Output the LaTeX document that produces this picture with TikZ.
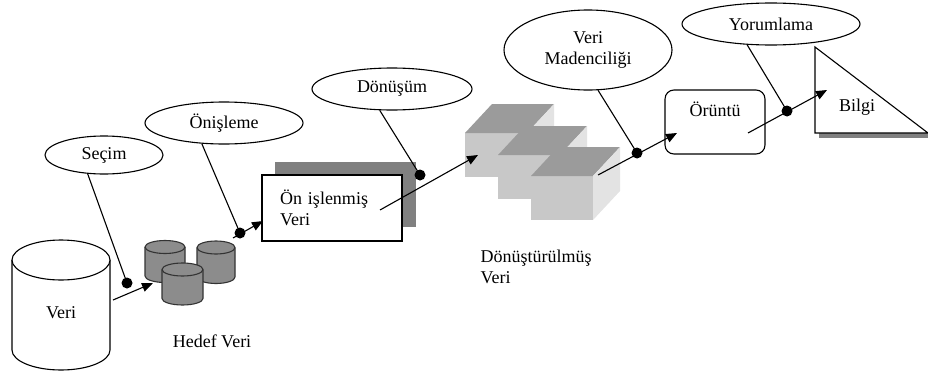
\documentclass[tikz,border=0pt]{standalone}
\usepackage{fontspec}
\setmainfont{Liberation Serif}
\usetikzlibrary{arrows.meta,shapes.geometric}

\definecolor{dbgray}{HTML}{8C8C8C}
\definecolor{shadegray}{HTML}{808080}
\definecolor{cubefront}{HTML}{C8C8C8}
\definecolor{cubetop}{HTML}{9B9B9B}
\definecolor{cubeside}{HTML}{E3E3E3}

\begin{document}
\begin{tikzpicture}[x=1pt, y=-1pt, line width=1.1pt,
  every node/.style={font=\fontsize{18}{21}\selectfont},
  oval/.style={ellipse, draw, fill=white, inner sep=0pt},
  dot/.style={circle, fill=black, inner sep=0pt, minimum size=11pt},
  arr/.style={-{Triangle[length=11pt,width=9pt]}},
  bigdb/.style={fill=white, draw=black},
  smalldb/.style={fill=dbgray, draw=black!80},
  plainbox/.style={rectangle, draw, fill=white}]
  \useasboundingbox (0,0) rectangle (928,372);

  % data stores
  \filldraw[bigdb] (12,260) -- (12,350) arc[start angle=180, end angle=360, x radius=49pt, y radius=20pt] -- (110,260);
  \filldraw[bigdb] (61,260) ellipse [x radius=49pt, y radius=20pt];
  \node (veri) at (61,313) {Veri};

  \filldraw[smalldb] (145,247) -- (145,276) arc[start angle=180, end angle=360, x radius=20pt, y radius=6.5pt] -- (185,247);
  \filldraw[smalldb] (165,247) ellipse [x radius=20pt, y radius=6.5pt];
  \filldraw[smalldb] (197,247.5) -- (197,277) arc[start angle=180, end angle=360, x radius=19pt, y radius=6.5pt] -- (235,247.5);
  \filldraw[smalldb] (216,247.5) ellipse [x radius=19pt, y radius=6.5pt];
  \filldraw[smalldb] (162,269.5) -- (162,298.5) arc[start angle=180, end angle=360, x radius=20.5pt, y radius=6.5pt] -- (203,269.5);
  \filldraw[smalldb] (182.5,269.5) ellipse [x radius=20.5pt, y radius=6.5pt];
  \node (hedef) at (212,341) {Hedef Veri};

  % preprocessed data
  \fill[shadegray] (275,162) rectangle (416,227);
  \node[plainbox, minimum width=140pt, minimum height=66pt, text width=104pt, align=left] (onveri) at (332,208) {Ön işlenmiş\\Veri};

  % transformed data
  \foreach \cx/\cy in {465/133, 498/155, 531/176} {
    \fill[cubefront] (\cx,\cy) rectangle ++(62,44);
    \fill[cubetop] (\cx,\cy) -- ++(27,-29) -- ++(62,0) -- ++(-27,29) -- cycle;
    \fill[cubeside] (\cx+62,\cy) -- ++(27,-29) -- ++(0,44) -- ++(-27,29) -- cycle;
  }
  \node[anchor=west, align=left, inner sep=0pt] (donveri) at (480,267) {Dönüştürülmüş\\Veri};

  % pattern and knowledge
  \node[plainbox, rounded corners=9pt, minimum width=100pt, minimum height=64pt, text height=12pt, text depth=24pt] (oruntu) at (715,122) {Örüntü};
  \fill[shadegray] (819,133) rectangle (928,137.5);
  \filldraw[fill=white] (815,47) -- (815,133) -- (928,133) -- cycle;
  \node (bilgi) at (857,107) {Bilgi};

  % steps
  \node[oval, minimum width=118pt, minimum height=38pt] (secim) at (104,155) {Seçim};
  \node[oval, minimum width=158pt, minimum height=42pt] (onisleme) at (224,123) {Önişleme};
  \node[oval, minimum width=160pt, minimum height=42pt] (donusum) at (392,89) {Dönüşüm};
  \node[oval, minimum width=168pt, minimum height=80pt, align=center] (madencilik) at (588,50) {Veri\\Madenciliği};
  \node[oval, minimum width=178pt, minimum height=42pt] (yorumlama) at (771,24) {Yorumlama};

  \node[dot] (d1) at (127,283) {};
  \node[dot] (d2) at (240,233) {};
  \node[dot] (d3) at (420,175) {};
  \node[dot] (d4) at (637,153) {};
  \node[dot] (d5) at (787,111) {};

  \draw (secim.229) -- (d1.center);
  \draw (onisleme.223) -- (d2.center);
  \draw (donusum.240) -- (d3.center);
  \draw (madencilik.284) -- (d4.center);
  \draw (yorumlama.221) -- (d5.center);

  % flow
  \coordinate (f1) at (113,300);
  \coordinate (t1) at (153,283);
  \coordinate (f2) at (233,238);
  \coordinate (t2) at (263,221);
  \coordinate (f3) at (380,210);
  \coordinate (t3) at (478,155);
  \coordinate (f4) at (598,175);
  \coordinate (t4) at (677,133);
  \coordinate (f5) at (748,133);
  \coordinate (t5) at (827,90);
  \draw[arr] (f1) -- (t1);
  \draw[arr] (f2) -- (t2);
  \draw[arr] (f3) -- (t3);
  \draw[arr] (f4) -- (t4);
  \draw[arr] (f5) -- (t5);
\end{tikzpicture}
\end{document}
